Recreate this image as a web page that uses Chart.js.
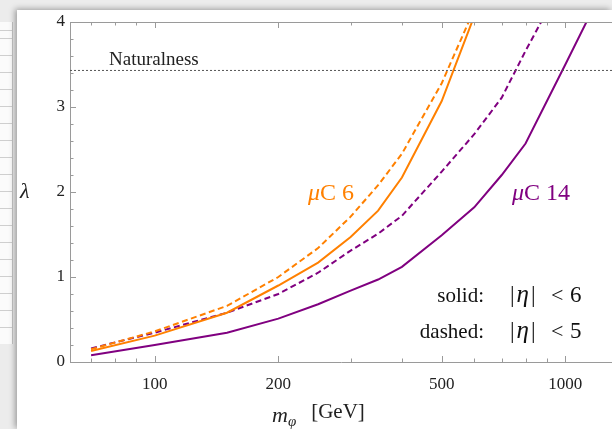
<!DOCTYPE html>
<html>
<head>
<meta charset="utf-8">
<script src="https://cdn.jsdelivr.net/npm/chart.js@4"></script>
<style>
html, body { margin: 0; padding: 0; }
body { width: 612px; height: 429px; overflow: hidden; position: relative; background: #ececec; }
#strip {
    position: absolute; left: 0; top: 22px; width: 12px; height: 322px;
    background: repeating-linear-gradient(to bottom, #fbfbfb 0, #fbfbfb 7.5px, #cfcfcf 7.5px, #cfcfcf 8.5px);
    border-right: 1px solid #c4c4c4;
}
#sheet {
    position: absolute; left: 17px; top: 10px; width: 595px; height: 419px;
    background: #fff; box-shadow: -2px -1px 6px rgba(0, 0, 0, 0.35);
}
canvas { position: absolute; left: 0; top: 0; }
</style>
</head>
<body>
<div id="strip"></div>
<div id="sheet"></div>
<canvas id="lambda-plot" width="612" height="429"></canvas>
<script>
// masses in GeV, lambda
const masses     = [70, 100, 150, 200, 250, 300, 350, 400, 500, 600, 700, 800, 1000, 1200];
const mu6Solid   = [0.13, 0.31, 0.58, 0.90, 1.17, 1.47, 1.78, 2.17, 3.07, 4.07, null, null, null, null];
const mu6Dashed  = [0.15, 0.36, 0.66, 1.00, 1.34, 1.71, 2.08, 2.45, 3.28, 4.15, null, null, null, null];
const mu14Solid  = [0.08, 0.20, 0.345, 0.51, 0.68, 0.84, 0.97, 1.12, 1.49, 1.82, 2.20, 2.57, 3.50, 4.27];
const mu14Dashed = [0.16, 0.345, 0.58, 0.80, 1.05, 1.31, 1.51, 1.72, 2.24, 2.68, 3.11, 3.66, 4.53, null];
const naturalness = 3.43;

// axes
const xRange = [62.2, 1299];
const xMajor = [100, 200, 500, 1000];
const xMinor = [70, 80, 90, 300, 400, 600, 700, 800, 900];
const yMajor = [0, 1, 2, 3, 4];
const yMinor = [0.2, 0.4, 0.6, 0.8, 1.2, 1.4, 1.6, 1.8, 2.2, 2.4, 2.6, 2.8, 3.2, 3.4, 3.6, 3.8];

const ORANGE = 'rgb(255,128,0)';
const PURPLE = 'rgb(128,0,128)';
const SERIF = '"Liberation Serif", "DejaVu Serif", serif';
const FRAME = '#9a9a9a';

function toPoints(values) {
    return masses.map((m, i) => ({ x: m, y: values[i] }));
}

function series(values, color, dashed) {
    return {
        data: toPoints(values),
        borderColor: color,
        borderWidth: 2,
        borderDash: dashed ? [6, 3.5] : [],
        pointRadius: 0,
        tension: 0,
        fill: false
    };
}

function drawRuns(ctx, x, y, runs) {
    let cx = x;
    runs.forEach(r => {
        ctx.font = r.font;
        ctx.fillText(r.text, cx + (r.dx || 0), y + (r.dy || 0));
        cx += ctx.measureText(r.text).width + (r.dx || 0);
    });
}

const frameTicks = {
    id: 'frameTicks',
    afterDraw(chart) {
        const ctx = chart.ctx;
        const area = chart.chartArea;
        const xs = chart.scales.x, ys = chart.scales.y;
        ctx.save();
        ctx.strokeStyle = FRAME;
        ctx.lineWidth = 1;
        ctx.beginPath();
        // top frame line
        ctx.moveTo(area.left, area.top + 0.5);
        ctx.lineTo(area.right, area.top + 0.5);
        xMajor.concat(xMinor).forEach(v => {
            const len = xMajor.includes(v) ? 6 : 3.5;
            const px = Math.round(xs.getPixelForValue(v)) + 0.5;
            ctx.moveTo(px, area.bottom);
            ctx.lineTo(px, area.bottom - len);
            ctx.moveTo(px, area.top);
            ctx.lineTo(px, area.top + len);
        });
        yMajor.concat(yMinor).forEach(v => {
            const len = yMajor.includes(v) ? 6 : 3.5;
            const py = Math.round(ys.getPixelForValue(v)) + 0.5;
            ctx.moveTo(area.left, py);
            ctx.lineTo(area.left + len, py);
        });
        ctx.stroke();

        // labels
        ctx.textBaseline = 'alphabetic';
        ctx.fillStyle = '#222';
        ctx.font = '19px ' + SERIF;
        ctx.fillText('Naturalness', 109, 65);

        ctx.font = 'italic 22px ' + SERIF;
        ctx.fillText('λ', 20, 198);

        drawRuns(ctx, 272, 422, [
            { text: 'm', font: 'italic 22px ' + SERIF },
            { text: 'φ', font: 'italic 15px ' + SERIF, dy: 4 },
            { text: '[GeV]', font: '21px ' + SERIF, dx: 15, dy: -4 }
        ]);

        ctx.fillStyle = ORANGE;
        drawRuns(ctx, 308, 200, [
            { text: 'μ', font: 'italic 24px ' + SERIF },
            { text: 'C 6', font: '24px ' + SERIF }
        ]);
        ctx.fillStyle = PURPLE;
        drawRuns(ctx, 512, 200, [
            { text: 'μ', font: 'italic 24px ' + SERIF },
            { text: 'C 14', font: '24px ' + SERIF }
        ]);

        ctx.fillStyle = '#111';
        [['solid:', '6', 302], ['dashed:', '5', 338]].forEach(([word, n, base]) => {
            ctx.font = '21px ' + SERIF;
            ctx.textAlign = 'right';
            ctx.fillText(word, 484, base);
            ctx.textAlign = 'left';
            drawRuns(ctx, 510, base, [
                { text: '|', font: '23px ' + SERIF },
                { text: 'η', font: 'italic 25px ' + SERIF, dx: 2 },
                { text: '|', font: '23px ' + SERIF, dx: 2 }
            ]);
            ctx.font = '22px ' + SERIF;
            ctx.fillText('<', 551, base);
            ctx.font = '23px ' + SERIF;
            ctx.fillText(n, 570, base);
        });
        ctx.restore();
    }
};

const ctx = document.getElementById('lambda-plot');

new Chart(ctx, {
    type: 'line',
    data: {
        datasets: [
            {
                data: [{ x: xRange[0], y: naturalness }, { x: xRange[1], y: naturalness }],
                borderColor: '#555',
                borderWidth: 1,
                borderDash: [2, 2],
                pointRadius: 0
            },
            series(mu6Dashed, ORANGE, true),
            series(mu6Solid, ORANGE, false),
            series(mu14Dashed, PURPLE, true),
            series(mu14Solid, PURPLE, false)
        ]
    },
    options: {
        responsive: false,
        animation: false,
        devicePixelRatio: 1,
        layout: { padding: { top: 22, left: 0, right: 0, bottom: 0 } },
        plugins: { legend: { display: false }, tooltip: { enabled: false } },
        scales: {
            x: {
                type: 'logarithmic',
                min: xRange[0],
                max: xRange[1],
                afterBuildTicks: scale => { scale.ticks = xMajor.map(v => ({ value: v })); },
                afterFit: scale => { scale.height = 67; },
                grid: { display: false, drawTicks: false },
                border: { display: true, color: FRAME, width: 1 },
                ticks: {
                    autoSkip: false,
                    maxRotation: 0,
                    padding: 12,
                    color: '#222',
                    font: { family: SERIF, size: 17 },
                    callback: v => String(v)
                }
            },
            y: {
                min: 0,
                max: 4,
                afterBuildTicks: scale => { scale.ticks = yMajor.map(v => ({ value: v })); },
                afterFit: scale => { scale.width = 70; },
                grid: { display: false, drawTicks: false },
                border: { display: true, color: FRAME, width: 1 },
                ticks: {
                    padding: 5,
                    color: '#222',
                    font: { family: SERIF, size: 17 },
                    callback: v => String(v)
                }
            }
        }
    },
    plugins: [frameTicks]
});
</script>
</body>
</html>
